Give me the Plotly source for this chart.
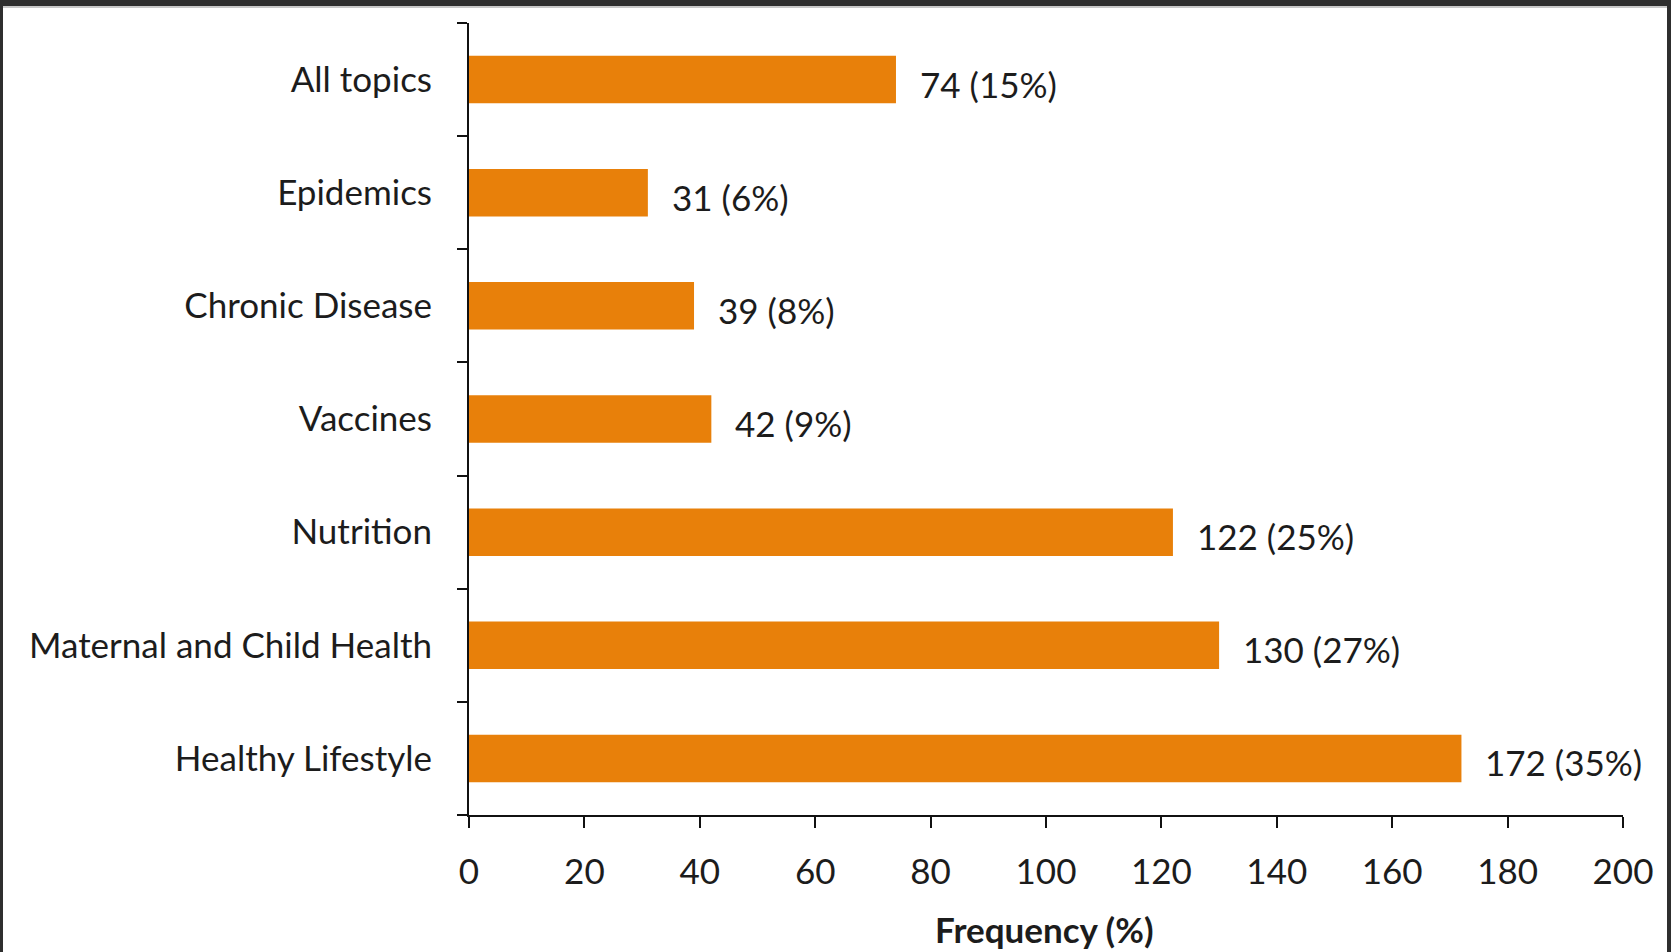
import plotly.graph_objects as go

# Topic categories, listed bottom to top as they appear on the axis
topics = [
    "Healthy Lifestyle",
    "Maternal and Child Health",
    "Nutrition",
    "Vaccines",
    "Chronic Disease",
    "Epidemics",
    "All topics",
]
counts = [172, 130, 122, 42, 39, 31, 74]
percents = [35, 27, 25, 9, 8, 6, 15]
x_ticks = [0, 20, 40, 60, 80, 100, 120, 140, 160, 180, 200]

W, H = 1671, 952
ML, MR, MT, MB = 469, 48, 23, 137
FONT = "Lato, Carlito, Calibri, sans-serif"
TEXT = "#1c1c1c"
BAR = "#E8800A"
FS = 35

fig = go.Figure(
    go.Bar(
        y=topics,
        x=counts,
        orientation="h",
        width=0.42,
        marker=dict(color=BAR, line=dict(width=0)),
        hoverinfo="x+y",
    )
)

# value labels "n (p%)" just past each bar end
for t, c, p in zip(topics, counts, percents):
    fig.add_annotation(
        x=c, y=t, xref="x", yref="y",
        text=f"{c} ({p}%)",
        showarrow=False, xanchor="left", yanchor="middle",
        xshift=22, yshift=-4,
        font=dict(family=FONT, size=FS, color=TEXT),
    )

pw = W - ML - MR
ph = H - MT - MB

def px_x(p):
    return (p - ML) / pw

def px_y(p):
    return (H - MB - p) / ph

# x-axis title
fig.add_annotation(
    x=px_x(1044), y=px_y(929), xref="paper", yref="paper",
    text="<b>Frequency (%)</b>", showarrow=False,
    xanchor="center", yanchor="middle",
    font=dict(family=FONT, size=35, color=TEXT),
)

# dark frame on top, left and right edges
frame = "#2e2e2e"
fig.add_shape(type="rect", xref="paper", yref="paper",
              x0=px_x(0), x1=px_x(W), y0=px_y(6), y1=px_y(0),
              fillcolor=frame, line=dict(width=0), layer="above")
fig.add_shape(type="rect", xref="paper", yref="paper",
              x0=px_x(0), x1=px_x(W), y0=px_y(8), y1=px_y(6),
              fillcolor="#c8c8c8", line=dict(width=0), layer="above")
fig.add_shape(type="rect", xref="paper", yref="paper",
              x0=px_x(0), x1=px_x(3), y0=px_y(H), y1=px_y(0),
              fillcolor=frame, line=dict(width=0), layer="above")
fig.add_shape(type="rect", xref="paper", yref="paper",
              x0=px_x(W - 4), x1=px_x(W), y0=px_y(H), y1=px_y(0),
              fillcolor=frame, line=dict(width=0), layer="above")

fig.update_layout(
    width=W, height=H,
    margin=dict(l=ML, r=MR, t=MT, b=MB, pad=0),
    paper_bgcolor="white", plot_bgcolor="white",
    showlegend=False,
    font=dict(family=FONT, color=TEXT),
    xaxis=dict(
        range=[0, 200],
        tickvals=x_ticks,
        ticktext=[str(v) for v in x_ticks],
        ticks="outside", ticklen=11, tickwidth=2, tickcolor="#111",
        showline=True, linecolor="#111", linewidth=2,
        showgrid=False, zeroline=False,
        ticklabelstandoff=14,
        tickfont=dict(family=FONT, size=FS, color=TEXT),
        fixedrange=True,
    ),
    yaxis=dict(
        type="category",
        categoryorder="array", categoryarray=topics,
        range=[-0.5, len(topics) - 0.5],
        tickson="boundaries",
        ticks="outside", ticklen=10, tickwidth=2, tickcolor="#111",
        showline=True, linecolor="#111", linewidth=2,
        showgrid=False, zeroline=False,
        ticklabelstandoff=28,
        tickfont=dict(family=FONT, size=FS, color=TEXT),
        fixedrange=True,
    ),
)

fig.write_html("out.html")
